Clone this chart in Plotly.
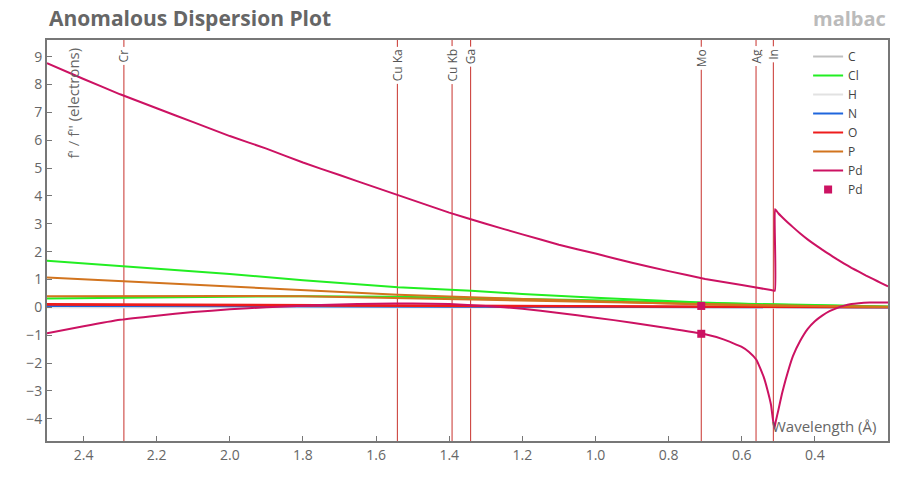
import plotly.graph_objects as go

# ---------------- data ----------------
wl = [2.5, 2.29, 2.0, 1.8, 1.54, 1.34, 1.2, 1.0, 0.8, 0.71, 0.56, 0.4, 0.3, 0.2]

C_f1 = [0.04, 0.035, 0.03, 0.025, 0.018, 0.015, 0.012, 0.009, 0.006, 0.005, 0.003, 0.002, 0.001, 0.0]
C_f2 = [0.03, 0.025, 0.018, 0.014, 0.009, 0.007, 0.005, 0.004, 0.002, 0.002, 0.001, 0.0, 0.0, 0.0]
Cl_f1 = [0.32, 0.35, 0.38, 0.40, 0.38, 0.34, 0.31, 0.25, 0.18, 0.15, 0.12, 0.08, 0.05, 0.03]
Cl_f2 = [1.67, 1.47, 1.20, 0.97, 0.72, 0.60, 0.48, 0.34, 0.21, 0.17, 0.11, 0.06, 0.04, 0.02]
H_f1 = [0.0] * 14
H_f2 = [0.0] * 14
N_f1 = [0.06, 0.055, 0.045, 0.04, 0.03, 0.025, 0.02, 0.015, 0.01, 0.006, 0.004, 0.002, 0.001, 0.0]
N_f2 = [0.05, 0.045, 0.035, 0.03, 0.02, 0.015, 0.012, 0.008, 0.005, 0.004, 0.002, 0.001, 0.0, 0.0]
O_f1 = [0.12, 0.11, 0.09, 0.07, 0.05, 0.04, 0.035, 0.025, 0.015, 0.01, 0.008, 0.004, 0.002, 0.0]
O_f2 = [0.09, 0.08, 0.06, 0.05, 0.035, 0.03, 0.02, 0.015, 0.01, 0.006, 0.004, 0.002, 0.001, 0.0]
P_f1 = [0.40, 0.41, 0.41, 0.40, 0.33, 0.28, 0.25, 0.19, 0.13, 0.11, 0.08, 0.05, 0.03, 0.02]
P_f2 = [1.07, 0.93, 0.75, 0.62, 0.45, 0.36, 0.30, 0.21, 0.13, 0.10, 0.07, 0.04, 0.02, 0.01]

# Pd f'' (upper curve, with the K-edge jump)
pd2_wl = [2.5, 2.4, 2.3, 2.2, 2.1, 2.0, 1.9, 1.8, 1.7, 1.6, 1.5, 1.4, 1.3, 1.2, 1.1, 1.0,
          0.9, 0.8, 0.7, 0.6, 0.52, 0.5095, 0.509, 0.5, 0.48, 0.46, 0.44, 0.42, 0.4, 0.38,
          0.36, 0.34, 0.32, 0.3, 0.28, 0.26, 0.24, 0.22, 0.2]
pd_f2 = [8.77, 8.2, 7.65, 7.15, 6.65, 6.15, 5.7, 5.2, 4.75, 4.3, 3.85, 3.4, 3.0, 2.62, 2.25, 1.93,
         1.6, 1.3, 1.02, 0.8, 0.62, 0.6, 3.52, 3.38, 3.12, 2.88, 2.65, 2.44, 2.25, 2.07,
         1.9, 1.73, 1.57, 1.42, 1.28, 1.14, 1.01, 0.88, 0.75]

# Pd f' (lower curve, with the dip at the edge)
pd1_wl = [2.5, 2.4, 2.3, 2.2, 2.1, 2.0, 1.9, 1.8, 1.7, 1.6, 1.5, 1.4, 1.3, 1.2, 1.1, 1.0,
          0.9, 0.8, 0.7, 0.65, 0.6, 0.58, 0.56, 0.54, 0.53, 0.52, 0.515, 0.511, 0.507, 0.5,
          0.49, 0.48, 0.47, 0.46, 0.44, 0.42, 0.4, 0.38, 0.36, 0.34, 0.32, 0.3, 0.28, 0.25, 0.2]
pd_f1 = [-0.93, -0.68, -0.45, -0.3, -0.17, -0.07, 0.0, 0.06, 0.1, 0.13, 0.14, 0.12, 0.05, -0.05, -0.2, -0.37,
         -0.55, -0.75, -0.97, -1.15, -1.42, -1.6, -1.88, -2.5, -2.95, -3.5, -4.0, -4.35, -4.1, -3.7,
         -3.1, -2.6, -2.15, -1.75, -1.2, -0.78, -0.5, -0.3, -0.14, -0.03, 0.06, 0.12, 0.15, 0.17, 0.17]

mark_wl = [0.7107, 0.7107]
mark_val = [0.05, -0.95]

lines_wl = [2.2897, 1.5418, 1.3922, 1.3414, 0.7107, 0.5609, 0.5136]
lines_lab = ["Cr", "Cu Ka", "Cu Kb", "Ga", "Mo", "Ag", "In"]

elements = ["C", "Cl", "H", "N", "O", "P"]
elem_f1 = [C_f1, Cl_f1, H_f1, N_f1, O_f1, P_f1]
elem_f2 = [C_f2, Cl_f2, H_f2, N_f2, O_f2, P_f2]
elem_col = ["#c0c0c0", "#22ee22", "#e2e2e2", "#1f66dd", "#ee1c1c", "#d2741e"]
PD_COL = "#cc1262"

FONT = "Open Sans"
GRAY = "#777777"

fig = go.Figure()
for name, f1, f2, col in zip(elements, elem_f1, elem_f2, elem_col):
    fig.add_trace(go.Scatter(x=wl, y=f2, mode="lines", name=name, legendgroup=name,
                             line=dict(color=col, width=2)))
    fig.add_trace(go.Scatter(x=wl, y=f1, mode="lines", name=name, legendgroup=name,
                             showlegend=False, line=dict(color=col, width=2)))

fig.add_trace(go.Scatter(x=pd2_wl, y=pd_f2, mode="lines", name="Pd", legendgroup="Pd",
                         line=dict(color=PD_COL, width=2, shape="spline", smoothing=0.4)))
fig.add_trace(go.Scatter(x=pd1_wl, y=pd_f1, mode="lines", name="Pd", legendgroup="Pd",
                         showlegend=False, line=dict(color=PD_COL, width=2, shape="spline", smoothing=0.4)))

# vertical emission lines
for xv, lab in zip(lines_wl, lines_lab):
    fig.add_shape(type="line", xref="x", yref="paper", x0=xv, x1=xv, y0=0, y1=1,
                  line=dict(color="#c8322d", width=1), layer="below")
    fig.add_annotation(x=xv, xref="x", y=1, yref="paper", yanchor="top", yshift=-6,
                       text=lab, textangle=-90, showarrow=False, bgcolor="white",
                       font=dict(family=FONT, size=12, color="#555555"), borderpad=2)

fig.add_trace(go.Scatter(x=mark_wl, y=mark_val, mode="markers", name="Pd",
                         marker=dict(symbol="square", size=8, color=PD_COL)))

fig.update_layout(
    width=900, height=500,
    margin=dict(l=47, r=10, t=40, b=59),
    plot_bgcolor="white", paper_bgcolor="white",
    font=dict(family=FONT, color="#666666", size=13),
    showlegend=True,
    legend=dict(x=0.905, y=0.995, xanchor="left", yanchor="top",
                font=dict(size=12, color="#444444"), bgcolor="rgba(0,0,0,0)",
                tracegroupgap=0, itemwidth=30),
    xaxis=dict(range=[2.5, 0.2], tickvals=[2.4, 2.2, 2.0, 1.8, 1.6, 1.4, 1.2, 1.0, 0.8, 0.6, 0.4],
               ticktext=["2.4", "2.2", "2.0", "1.8", "1.6", "1.4", "1.2", "1.0", "0.8", "0.6", "0.4"],
               ticks="inside", ticklen=5, tickcolor=GRAY, showgrid=False, zeroline=False,
               showline=True, linecolor=GRAY, linewidth=2, mirror=True,
               tickfont=dict(size=14, color="#666666")),
    yaxis=dict(range=[-4.8, 9.6], tickvals=list(range(-4, 10)),
               ticks="inside", ticklen=5, tickcolor=GRAY, showgrid=False, zeroline=False,
               showline=True, linecolor=GRAY, linewidth=2, mirror=True,
               tickfont=dict(size=14, color="#666666")),
)

fig.add_annotation(x=0, xref="paper", y=1, yref="paper", xanchor="left", yanchor="bottom",
                   yshift=6, text="<b>Anomalous Dispersion Plot</b>", showarrow=False,
                   font=dict(family=FONT, size=21, color="#666666"))
fig.add_annotation(x=1, xref="paper", y=1, yref="paper", xanchor="right", yanchor="bottom",
                   yshift=6, text="<b>malbac</b>", showarrow=False,
                   font=dict(family=FONT, size=20, color="#bbbbbb"))
fig.add_annotation(x=0, xref="paper", y=1, yref="paper", xanchor="left", yanchor="top",
                   xshift=13, yshift=-6, text="f' / f'' (electrons)", textangle=-90, showarrow=False,
                   font=dict(family=FONT, size=15, color="#666666"))
fig.add_annotation(x=1, xref="paper", y=0, yref="paper", xanchor="right", yanchor="bottom",
                   xshift=-10, yshift=3, text="Wavelength (Å)", showarrow=False,
                   font=dict(family=FONT, size=15, color="#666666"))

fig.write_html("out.html")
